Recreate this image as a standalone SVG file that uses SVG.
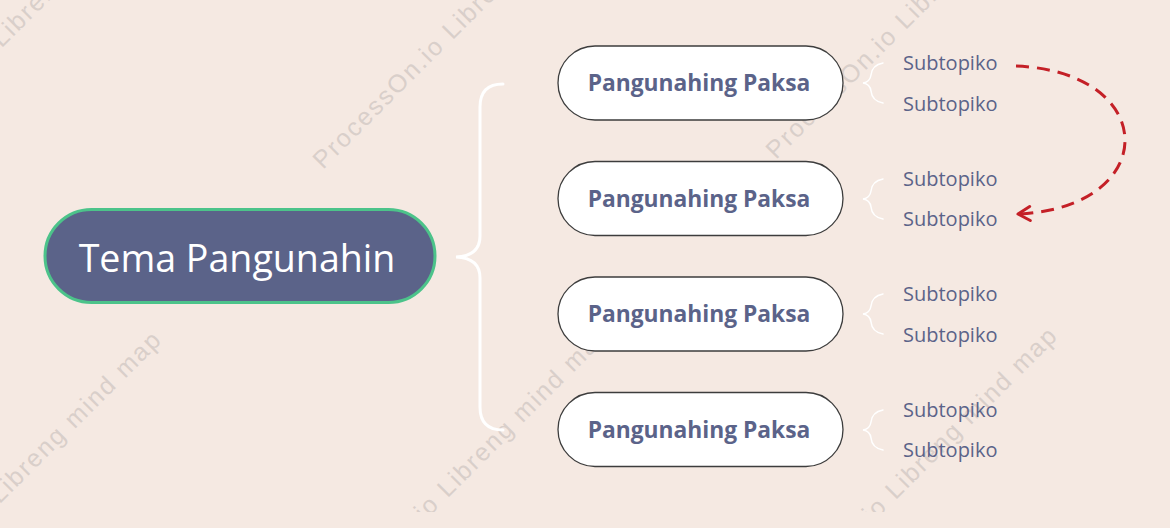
<svg xmlns="http://www.w3.org/2000/svg" width="1170" height="528" viewBox="0 0 1170 528">
  <style>
    .wm { font-family: "Liberation Sans", Arial, sans-serif; font-size: 25px; letter-spacing: 2px; fill: #d9cfca; }
    .root-box { fill: #5b6389; stroke: #4cc38a; stroke-width: 3; }
    .root-text { font-family: "Open Sans", "Noto Sans", sans-serif; font-size: 37.6px; fill: #ffffff; text-anchor: middle; }
    .main-box { fill: #ffffff; stroke: #3d3d3d; stroke-width: 1.3; }
    .main-text { font-family: "Open Sans", "Noto Sans", sans-serif; font-size: 22.8px; font-weight: bold; fill: #5b6389; text-anchor: middle; }
    .sub-text { font-family: "Open Sans", "Noto Sans", sans-serif; font-size: 20px; fill: #5b6389; }
    .brace { fill: none; stroke: #ffffff; stroke-linecap: round; }
    .rel { fill: none; stroke: #c42027; stroke-width: 3; stroke-dasharray: 13 8; }
  </style>
  <defs>
    <clipPath id="wmclip"><rect x="0" y="0" width="1170" height="512"/></clipPath>
    <marker id="arrow" viewBox="0 0 20 20" refX="18" refY="10" markerWidth="20" markerHeight="20" markerUnits="userSpaceOnUse" orient="auto">
      <path d="M6,3 L18,10 L6,17" fill="none" stroke="#c42027" stroke-width="3" stroke-linecap="round" stroke-linejoin="round"/>
    </marker>
  </defs>
  <rect x="0" y="0" width="1170" height="528" fill="#f5e9e2"/>

  <g id="watermarks" clip-path="url(#wmclip)">
    <text class="wm" transform="translate(-128,178) rotate(-45)">ProcessOn.io Libreng mind map</text>
    <text class="wm" transform="translate(323,170) rotate(-45)">ProcessOn.io Libreng mind map</text>
    <text class="wm" transform="translate(776,160) rotate(-45)">ProcessOn.io Libreng mind map</text>
    <text class="wm" transform="translate(-130,634) rotate(-45)">ProcessOn.io Libreng mind map</text>
    <text class="wm" transform="translate(318,628) rotate(-45)">ProcessOn.io Libreng mind map</text>
    <text class="wm" transform="translate(766,630) rotate(-45)">ProcessOn.io Libreng mind map</text>
  </g>

  <g id="connectors">
    <path class="brace" stroke-width="3" d="M503,84 Q480,84 480,107 L480,236 Q480,256 456,257 Q480,258 480,278 L480,407 Q480,430 503,430"/>
    <path class="brace" stroke-width="1.5" d="M883,63 Q872,65 871,75 Q870,82 863,83 Q870,84 871,91 Q872,101 883,103"/>
    <path class="brace" stroke-width="1.5" d="M883,179 Q872,181 871,191 Q870,198 863,199 Q870,200 871,207 Q872,217 883,219"/>
    <path class="brace" stroke-width="1.5" d="M883,294 Q872,296 871,306 Q870,313 863,314 Q870,315 871,322 Q872,332 883,334"/>
    <path class="brace" stroke-width="1.5" d="M883,410 Q872,412 871,422 Q870,429 863,430 Q870,431 871,438 Q872,448 883,450"/>
    <path class="rel" d="M1016,66 C1161,72 1161,208 1018,214" marker-end="url(#arrow)"/>
  </g>

  <g id="root">
    <rect class="root-box" x="45" y="209.5" width="390" height="93" rx="46.5"/>
    <text class="root-text" x="237" y="272">Tema Pangunahin</text>
  </g>

  <g id="main1">
    <rect class="main-box" x="558" y="46" width="285" height="74" rx="37"/>
    <text class="main-text" x="699" y="91">Pangunahing Paksa</text>
  </g>
  <g id="main2">
    <rect class="main-box" x="558" y="161.5" width="285" height="74" rx="37"/>
    <text class="main-text" x="699" y="206.5">Pangunahing Paksa</text>
  </g>
  <g id="main3">
    <rect class="main-box" x="558" y="277" width="285" height="74" rx="37"/>
    <text class="main-text" x="699" y="322">Pangunahing Paksa</text>
  </g>
  <g id="main4">
    <rect class="main-box" x="558" y="392.5" width="285" height="74" rx="37"/>
    <text class="main-text" x="699" y="437.5">Pangunahing Paksa</text>
  </g>

  <g id="sub1a"><text class="sub-text" x="903" y="70">Subtopiko</text></g>
  <g id="sub1b"><text class="sub-text" x="903" y="111">Subtopiko</text></g>
  <g id="sub2a"><text class="sub-text" x="903" y="186">Subtopiko</text></g>
  <g id="sub2b"><text class="sub-text" x="903" y="226">Subtopiko</text></g>
  <g id="sub3a"><text class="sub-text" x="903" y="301">Subtopiko</text></g>
  <g id="sub3b"><text class="sub-text" x="903" y="342">Subtopiko</text></g>
  <g id="sub4a"><text class="sub-text" x="903" y="417">Subtopiko</text></g>
  <g id="sub4b"><text class="sub-text" x="903" y="457">Subtopiko</text></g>
</svg>
